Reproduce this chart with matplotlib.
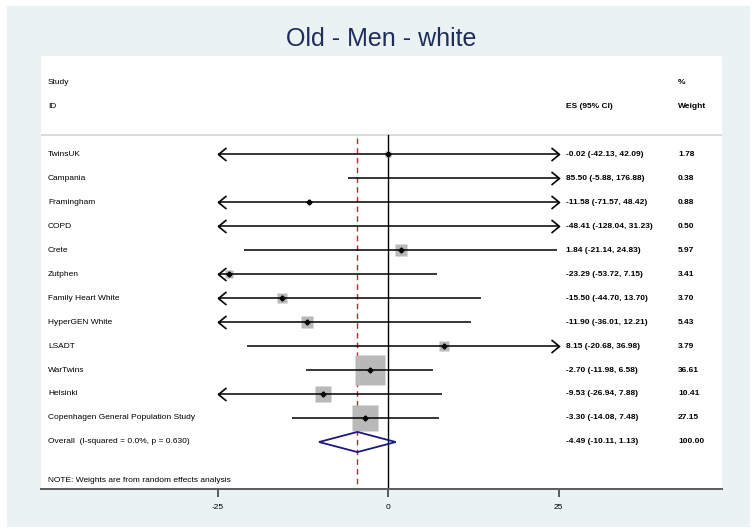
import numpy as np
import matplotlib
matplotlib.use("Agg")
import matplotlib.pyplot as plt
from matplotlib.path import Path
from matplotlib.patches import Rectangle, Polygon

plt.rcParams['font.family'] = ['Liberation Sans', 'DejaVu Sans']

title = "Old - Men - white"
studies = ["TwinsUK", "Campania", "Framingham", "COPD", "Crete", "Zutphen",
           "Family Heart White", "HyperGEN White", "LSADT", "WarTwins",
           "Helsinki", "Copenhagen General Population Study"]
es = [-0.02, 85.50, -11.58, -48.41, 1.84, -23.29, -15.50, -11.90, 8.15, -2.70, -9.53, -3.30]
lo = [-42.13, -5.88, -71.57, -128.04, -21.14, -53.72, -44.70, -36.01, -20.68, -11.98, -26.94, -14.08]
hi = [42.09, 176.88, 48.42, 31.23, 24.83, 7.15, 13.70, 12.21, 36.98, 6.58, 7.88, 7.48]
weights = [1.78, 0.38, 0.88, 0.50, 5.97, 3.41, 3.70, 5.43, 3.79, 36.61, 10.41, 27.15]
overall_label = "Overall  (I-squared = 0.0%, p = 0.630)"
overall_es, overall_lo, overall_hi, overall_w = -4.49, -10.11, 1.13, 100.00
note = "NOTE: Weights are from random effects analysis"
xticks = [-25, 0, 25]
clip_lo, clip_hi = -25, 25

W, H = 755, 529
fig = plt.figure(figsize=(W / 100, H / 100), dpi=100)
fig.patch.set_facecolor("white")
bg = "#EAF2F3"
fig.add_artist(Rectangle((7 / W, 1 - 527 / H), (750 - 7) / W, (527 - 6) / H,
                         transform=fig.transFigure, facecolor=bg, edgecolor="none", zorder=0))

# plot region in pixels
x0, x1, y0, y1 = 41, 722, 56, 489
ax = fig.add_axes([x0 / W, 1 - y1 / H, (x1 - x0) / W, (y1 - y0) / H])
ax.set_facecolor("white")
ax.set_zorder(1)

px_per_unit = (559 - 218) / 50.0
zero_px = 388
ax.set_xlim((x0 - zero_px) / px_per_unit, (x1 - zero_px) / px_per_unit)
row_px = 24.0
row1_px = 154
ax.set_ylim((y1 - row1_px) / row_px + 1, (y0 - row1_px) / row_px + 1)

for s in ["top", "left", "right"]:
    ax.spines[s].set_visible(False)
ax.spines["bottom"].set_color("#5a5a5a")
ax.spines["bottom"].set_linewidth(1.4)
ax.set_yticks([])
ax.set_xticks(xticks)
ax.set_xticklabels([str(t) for t in xticks], fontsize=6)
ax.tick_params(axis="x", length=6, width=1.1, color="#333333", pad=5)

n = len(studies)
rows = np.arange(1, n + 1)
sep_y = 1 + (135 - row1_px) / row_px
ax.axhline(sep_y, color="#d4d4d4", lw=1.2, zorder=1)

ybot = ax.get_ylim()[0]
ax.plot([0, 0], [sep_y, ybot], color="black", lw=1.0, zorder=2)
ax.plot([overall_es, overall_es], [sep_y + 0.12, ybot], color="#cc1f2a", lw=1.0,
        ls=(0, (4, 3)), zorder=2)

chev_r = Path([(-8, 6.5), (0, 0), (-8, -6.5)], [Path.MOVETO, Path.LINETO, Path.LINETO])
chev_l = Path([(8, 6.5), (0, 0), (8, -6.5)], [Path.MOVETO, Path.LINETO, Path.LINETO])

for i in range(n):
    y = rows[i]
    a = max(lo[i], clip_lo)
    b = min(hi[i], clip_hi)
    inside = clip_lo <= es[i] <= clip_hi
    side_pt = 4.85 * np.sqrt(weights[i]) * 0.72
    if inside:
        ax.plot([es[i]], [y], marker="s", ms=side_pt, color="#b9b9b9", mec="none", zorder=3)
    ax.plot([a, b], [y, y], color="black", lw=1.1, zorder=4, solid_capstyle="butt")
    if lo[i] < clip_lo:
        ax.plot([a], [y], marker=chev_l, ms=11.5, mfc="none", mec="black", mew=1.2, zorder=4)
    if hi[i] > clip_hi:
        ax.plot([b], [y], marker=chev_r, ms=11.5, mfc="none", mec="black", mew=1.2, zorder=4)
    if inside:
        ax.plot([es[i]], [y], marker="D", ms=2.6, color="black", zorder=5)

# pooled estimate diamond
yo = n + 1
dh = 0.42
ax.add_patch(Polygon([(overall_lo, yo), (overall_es, yo - dh), (overall_hi, yo),
                      (overall_es, yo + dh)], closed=True, facecolor="none",
                     edgecolor="#1a1a80", lw=1.3, zorder=5))

# text columns
fs = 6.0
tx_study = (48 - zero_px) / px_per_unit
tx_es = (566 - zero_px) / px_per_unit
tx_w = (678 - zero_px) / px_per_unit
ax.text(tx_study, -2, "Study", fontsize=fs, va="center", ha="left")
ax.text(tx_study, -1, "ID", fontsize=fs, va="center", ha="left")
ax.text(tx_es, -1, "ES (95% CI)", fontsize=fs, va="center", ha="left", fontweight="bold")
ax.text(tx_w, -2, "%", fontsize=fs, va="center", ha="left", fontweight="bold")
ax.text(tx_w, -1, "Weight", fontsize=fs, va="center", ha="left", fontweight="bold")

for i in range(n):
    y = rows[i]
    ax.text(tx_study, y, studies[i], fontsize=fs, va="center", ha="left")
    ax.text(tx_es, y, f"{es[i]:.2f} ({lo[i]:.2f}, {hi[i]:.2f})", fontsize=fs,
            va="center", ha="left", fontweight="bold")
    ax.text(tx_w, y, f"{weights[i]:.2f}", fontsize=fs, va="center", ha="left",
            fontweight="bold")

ax.text(tx_study, yo, overall_label, fontsize=fs, va="center", ha="left")
ax.text(tx_es, yo, f"{overall_es:.2f} ({overall_lo:.2f}, {overall_hi:.2f})", fontsize=fs,
        va="center", ha="left", fontweight="bold")
ax.text(tx_w, yo, f"{overall_w:.2f}", fontsize=fs, va="center", ha="left", fontweight="bold")
ax.text(tx_study, 1 + (481 - row1_px) / row_px, note, fontsize=fs, va="center", ha="left")

fig.text(381 / W, 1 - 39.5 / H, title, fontsize=18, color="#1f2d5c", ha="center", va="center")

fig.savefig("out.png", dpi=100)
